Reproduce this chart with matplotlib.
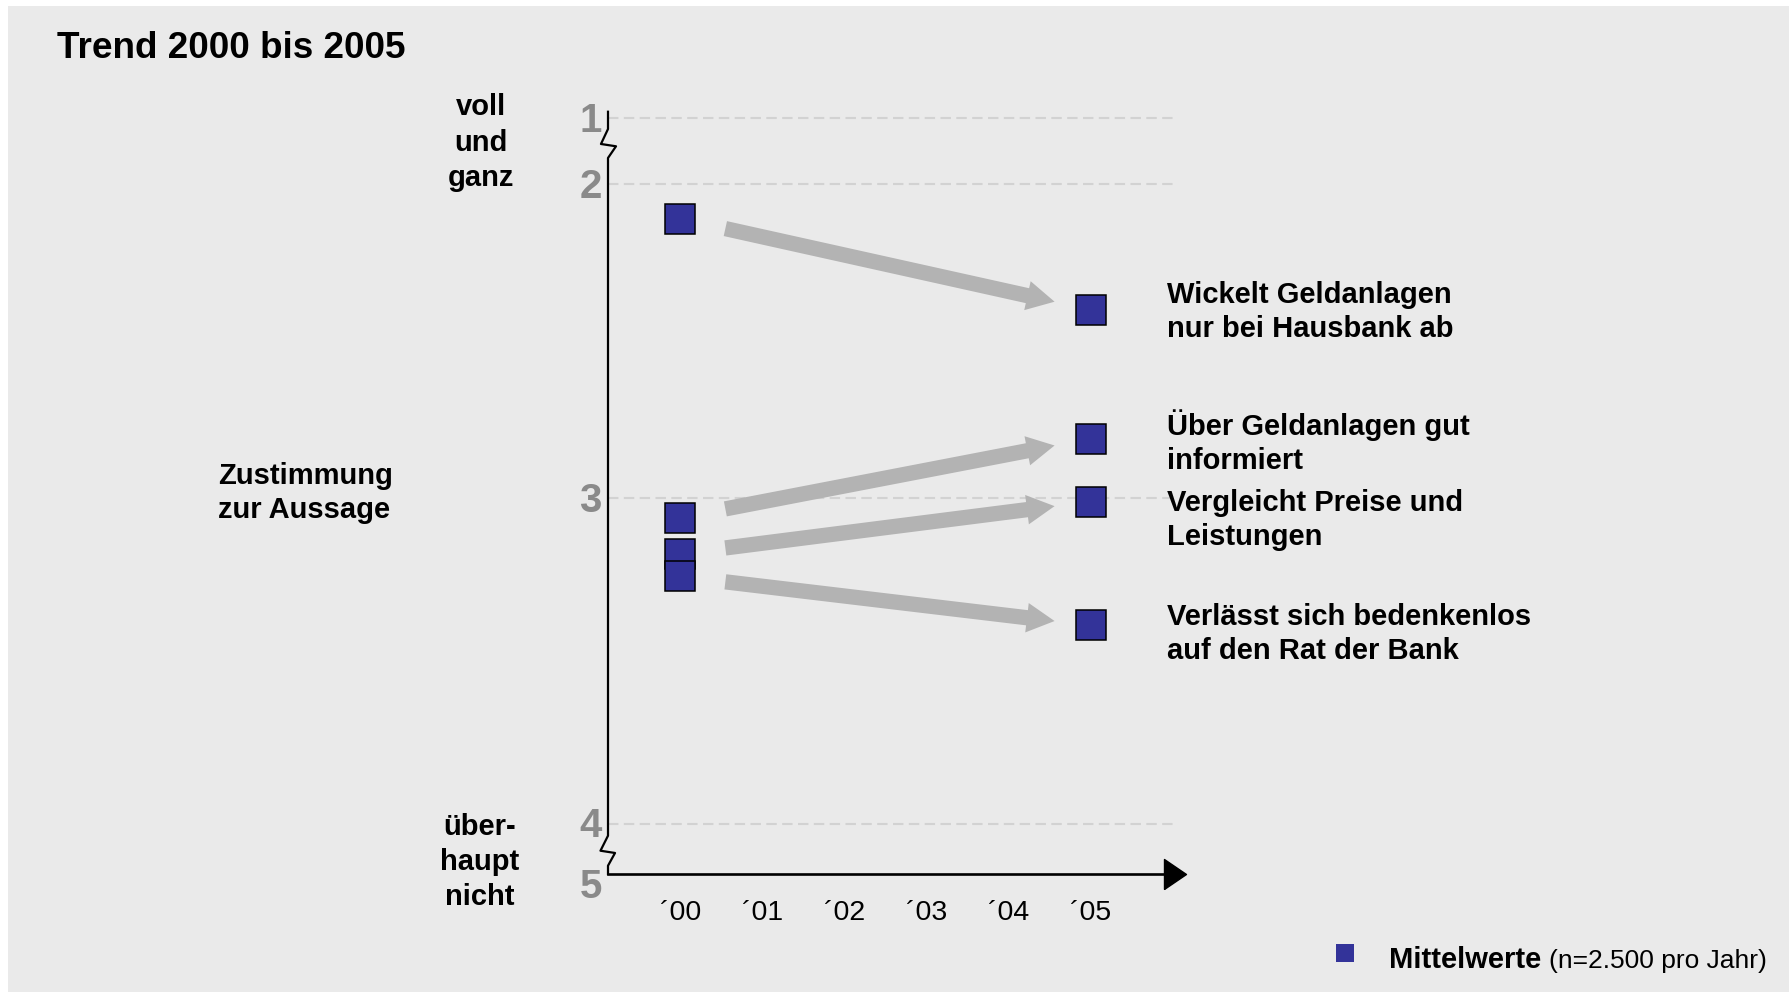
import numpy as np
import matplotlib
matplotlib.use('Agg')
import matplotlib.pyplot as plt
import matplotlib.transforms as mtransforms
from matplotlib.patches import Rectangle, FancyArrowPatch, ArrowStyle

plt.rcParams['font.family'] = ['Liberation Sans', 'DejaVu Sans']

# Daten
aussagen = ['Wickelt Geldanlagen\nnur bei Hausbank ab',
            'Über Geldanlagen gut\ninformiert',
            'Vergleicht Preise und\nLeistungen',
            'Verlässt sich bedenkenlos\nauf den Rat der Bank']
mittel_2000 = [2.11, 3.06, 3.17, 3.24]
mittel_2005 = [2.40, 2.81, 3.01, 3.39]
jahre = [0, 1, 2, 3, 4, 5]
jahr_labels = ['´00', '´01', '´02', '´03', '´04', '´05']
skala = [1, 2, 3, 4, 5]
skala_labels = ['1', '2', '3', '4', '5']
gitter = [1, 2, 3, 4]

W, H = 1789, 995
BG = '#eaeaea'
BLAU = '#333399'
PFEIL = '#b3b3b3'
GRAU = '#8a8a8a'
FS = 21

# gebrochene Skala (1-2 und 4-5 gestaucht): Wert -> Pixel von oben
knoten_w = [-10, 1, 2, 3, 4, 5, 20]
knoten_p = [-603.4, 119.3, 185.0, 499.3, 825.0, 886.0, 1801.0]


def vorwaerts(v):
    return np.interp(v, knoten_w, knoten_p)


def rueckwaerts(p):
    return np.interp(p, knoten_p, knoten_w)


def fpos(x, y):
    """Pixel (von oben links) -> Figurkoordinaten."""
    return x / W, 1 - y / H


fig = plt.figure(figsize=(W / 100, H / 100), dpi=100)
fig.patch.set_facecolor('white')
fig.add_artist(Rectangle(fpos(8, 993), (W - 8) / W, (993 - 7) / H,
                         transform=fig.transFigure, facecolor=BG,
                         edgecolor='none', zorder=-1))

ax_l, ax_r, ax_t, ax_b = 608, 1200, 100, 890
ax = fig.add_axes([ax_l / W, 1 - ax_b / H, (ax_r - ax_l) / W, (ax_b - ax_t) / H])
ax.set_facecolor('none')
for s in ax.spines.values():
    s.set_visible(False)

x0_px, dx_px = 680.2, 82.1
ax.set_xlim((ax_l - x0_px) / dx_px, (ax_r - x0_px) / dx_px)
ax.set_yscale('function', functions=(vorwaerts, rueckwaerts))
ax.set_ylim(rueckwaerts(ax_b), rueckwaerts(ax_t))

x_achse = ax.get_xlim()[0]
y_achse = 4.82

# Hilfslinien
ax.hlines(gitter, x_achse, 6.0, colors='#d2d2d2', linestyles=(0, (5, 2.6)),
          lw=1.5, zorder=1)

# y-Achse mit Bruchstellen
zx = [x_achse, x_achse, -0.965, -0.782, x_achse, x_achse,
      -0.971, -0.794, x_achse, x_achse]
zy = [0.90, 1.163, 1.391, 1.426, 1.604, 4.192, 4.438, 4.475, 4.684, y_achse]
ax.plot(zx, zy, color='black', lw=1.6, clip_on=False, zorder=2)

# x-Achse mit Pfeil
ax.plot([x_achse, 6.03], [y_achse, y_achse], color='black', lw=1.9,
        clip_on=False, zorder=2)
spitze = [(-0.733, -1), (0.733, 0), (-0.733, 1), (-0.733, -1)]
ax.plot([6.03], [y_achse], marker=spitze, ms=21.6, color='black',
        ls='none', clip_on=False, zorder=2)

# Trendpfeile
stil = ArrowStyle.Simple(head_length=20, head_width=21.3, tail_width=11)
t0, t1 = 0.55, 4.56
for a, b in zip(mittel_2000, mittel_2005):
    ya = a + (b - a) * t0 / 5
    yb = a + (b - a) * t1 / 5
    ax.add_patch(FancyArrowPatch((t0, ya), (t1, yb), arrowstyle=stil,
                                 mutation_scale=1, color=PFEIL, lw=0,
                                 shrinkA=0, shrinkB=0, zorder=3))

# Mittelwerte
text_dy = [8, 5, -8, 1]
for name, a, b, dy in zip(aussagen, mittel_2000, mittel_2005, text_dy):
    ax.plot([0, 5], [a, b], ls='none', marker='s', ms=22, mfc=BLAU,
            mec='black', mew=1.1, zorder=4)
    for i, zeile in enumerate(name.split('\n')):
        ax.annotate(zeile, xy=(5, b), xytext=(76, dy - i * 34),
                    textcoords='offset pixels', ha='left', va='baseline',
                    fontsize=FS, fontweight='bold', annotation_clip=False)

ax.set_xticks(jahre, jahr_labels)
ax.tick_params(axis='x', length=0, pad=7, labelsize=20.5)
ax.set_yticks(skala, skala_labels)
ax.tick_params(axis='y', length=0, pad=4.5, labelsize=29, labelcolor=GRAU)
hoch = mtransforms.ScaledTranslation(0, 2.5 / 100, fig.dpi_scale_trans)
for lab in ax.get_yticklabels():
    lab.set_fontweight('bold')
    lab.set_transform(lab.get_transform() + hoch)

# Beschriftungen links
fig.text(*fpos(57, 58), 'Trend 2000 bis 2005', fontsize=26.6,
         fontweight='bold', va='baseline')
for zeile, y in zip(['voll', 'und', 'ganz'], [115, 151, 185.5]):
    fig.text(*fpos(481, y), zeile, fontsize=FS, fontweight='bold',
             ha='center', va='baseline')
for zeile, y in zip(['Zustimmung', 'zur Aussage'], [483.5, 518.5]):
    fig.text(*fpos(218, y), zeile, fontsize=FS, fontweight='bold',
             ha='left', va='baseline')
for zeile, y in zip(['über-', 'haupt', 'nicht'], [835, 870.5, 905]):
    fig.text(*fpos(480, y), zeile, fontsize=FS, fontweight='bold',
             ha='center', va='baseline')

# Legende
fig.add_artist(Rectangle(fpos(1336, 963.3), 18.3 / W, 18.3 / H,
                         transform=fig.transFigure, facecolor=BLAU,
                         edgecolor='none'))
fig.text(*fpos(1389, 968), 'Mittelwerte', fontsize=FS, fontweight='bold',
         va='baseline')
fig.text(*fpos(1767, 968), '(n=2.500 pro Jahr)', fontsize=19,
         ha='right', va='baseline')

fig.savefig('out.png', dpi=100, facecolor=fig.get_facecolor())
